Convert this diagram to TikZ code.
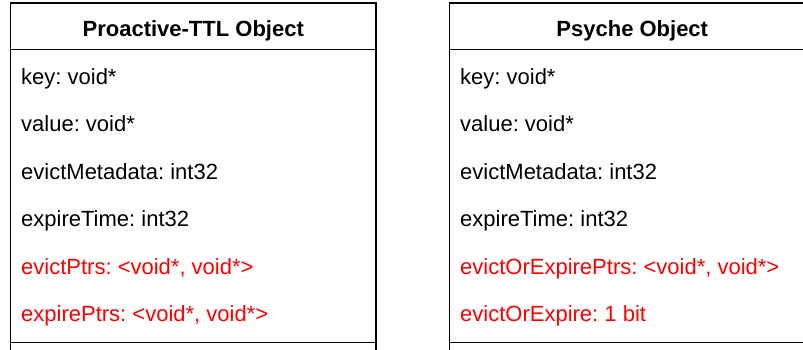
\documentclass[tikz,border=0pt]{standalone}
\usepackage{fontspec}
\setmainfont{Liberation Sans}
\usepackage{tikz}
\usepackage{xcolor}
\frenchspacing

\begin{document}
\begin{tikzpicture}[x=1pt, y=-1pt,
  hdr/.style={font=\fontsize{22}{26}\selectfont\bfseries, anchor=base, inner sep=0pt},
  field/.style={font=\fontsize{22}{26}\selectfont, anchor=base west, inner sep=0pt},
  added/.style={field, text=red},
  boxline/.style={line width=1.9pt}]
\clip (0, 0) rectangle (803, 349);
% Proactive-TTL object
\draw[boxline] (10.5, 355) -- (10.5, 3) -- (376, 3) -- (376, 355);
\draw[boxline] (10.5, 49.5) -- (376, 49.5);
\draw[boxline] (10.5, 342.5) -- (376, 342.5);
\node[hdr] (ttl) at (193.25, 36) {Proactive-TTL Object};
\node[field] (ttlkey) at (21, 84) {key: void*};
\node[field] (ttlval) at (21, 131.5) {value: void*};
\node[field] (ttlmeta) at (21, 179) {evictMetadata: int32};
\node[field] (ttlexp) at (21, 226.5) {expireTime: int32};
\node[added] (ttlevict) at (21, 274) {evictPtrs: <void*, void*>};
\node[added] (ttlexpptr) at (21, 321.5) {expirePtrs: <void*, void*>};
% Psyche object
\draw[boxline] (449.5, 355) -- (449.5, 3) -- (815, 3) -- (815, 355);
\draw[boxline] (449.5, 49.5) -- (815, 49.5);
\draw[boxline] (449.5, 342.5) -- (815, 342.5);
\node[hdr] (psy) at (632.25, 36) {Psyche Object};
\node[field] (psykey) at (460, 84) {key: void*};
\node[field] (psyval) at (460, 131.5) {value: void*};
\node[field] (psymeta) at (460, 179) {evictMetadata: int32};
\node[field] (psyexp) at (460, 226.5) {expireTime: int32};
\node[added] (psyptrs) at (460, 274) {evictOrExpirePtrs: <void*, void*>};
\node[added] (psybit) at (460, 321.5) {evictOrExpire: 1 bit};
\end{tikzpicture}
\end{document}
